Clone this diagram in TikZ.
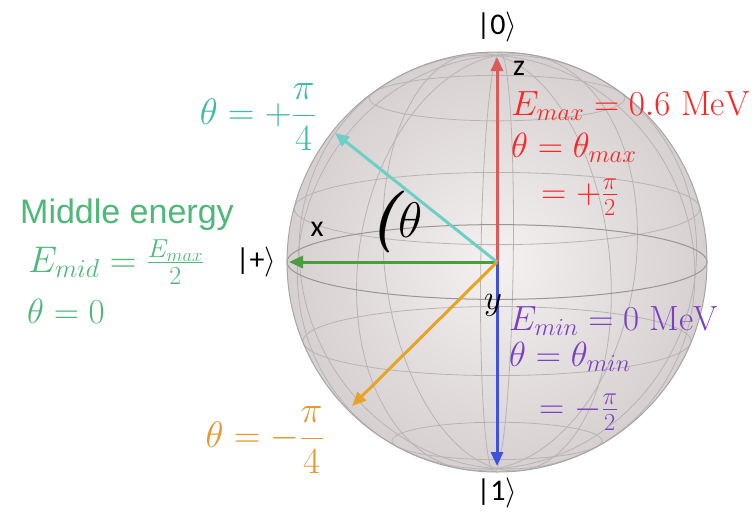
\RequirePackage{fix-cm}
\documentclass[tikz,border=0pt]{standalone}
\usepackage{amsmath}
\usepackage{fontspec}
\newfontfamily\ketfont{Carlito}
\newfontfamily\headfont{Liberation Sans}
\usetikzlibrary{arrows.meta}
\definecolor{cSphIn}{HTML}{F5F1F1}
\definecolor{cSphOut}{HTML}{D6D0D0}
\definecolor{cRim}{HTML}{A9A5A5}
\definecolor{cGrid}{HTML}{B9B4B4}
\definecolor{cEq}{HTML}{9A9696}
\definecolor{cZ}{HTML}{DE5A5A}
\definecolor{cMinA}{HTML}{3F52DD}
\definecolor{cMidA}{HTML}{4B9B3F}
\definecolor{cPlusA}{HTML}{6DD0C6}
\definecolor{cNegA}{HTML}{E8A326}
\definecolor{cMaxT}{HTML}{FF2424}
\definecolor{cMinT}{HTML}{7B3FC4}
\definecolor{cMidT}{HTML}{4DB878}
\definecolor{cPlusT}{HTML}{3DBAA8}
\definecolor{cNegT}{HTML}{E8962E}

\begin{document}
\begin{tikzpicture}[
    x=1pt, y=-1pt,
    grd/.style={draw=cGrid, line width=0.8pt},
    eqt/.style={draw=cEq, line width=1pt},
    ar/.style={-{Triangle[length=14pt,width=12pt]}, line width=3pt},
    ket/.style={font=\ketfont\fontsize{30}{32}\selectfont, inner sep=0pt},
    mth/.style={font=\fontsize{35}{40}\selectfont, inner sep=0pt},
    mbig/.style={font=\fontsize{37}{42}\selectfont, inner sep=0pt},
]
\fill[white] (0,0) rectangle (752,515);
\useasboundingbox (0,0) rectangle (752,515);

% === SPHERE: body, grid, equator ===
\coordinate (c) at (497,262);
\shade[inner color=cSphIn, outer color=cSphOut] (c) circle[radius=210pt];

\foreach \la in {52.5,15,-22.5,-60}
  \draw[grd] plot[domain=0:360, samples=91]
    ({497+210*cos(\la)*cos(\x)}, {262-206.6*sin(\la)+37.4*cos(\la)*sin(\x)});
\foreach \lo in {-18,19.5,57,94.5,132}
  \draw[grd] plot[domain=0:360, samples=91]
    ({497+210*cos(\x)*cos(\lo)}, {262-206.6*sin(\x)+37.4*cos(\x)*sin(\lo)});

\draw[eqt] plot[domain=0:360, samples=121] ({497+210*cos(\x)}, {262+37.4*sin(\x)});
\draw[draw=cRim, line width=1pt] (c) circle[radius=210pt];

% === STATE ARROWS ===
\coordinate (tz) at (497,57);
\coordinate (tb) at (497,466);
\coordinate (tm) at (289,262);
\coordinate (tp) at (335,133);
\coordinate (tn) at (352,406);

\draw[ar, cZ] (c) -- (tz);
\draw[ar, cMinA] (c) -- (tb);
\draw[ar, cMidA] (c) -- (tm);
\draw[ar, cPlusA] (c) -- (tp);
\draw[ar, cNegA] (c) -- (tn);

% === AXIS AND STATE LABELS ===
\node[ket] (k0) at (497,27) {|0$\rangle$};
\node[ket] (k1) at (497,493) {|1$\rangle$};
\node[ket] (kp) at (256,262) {|+$\rangle$};
\node[ket] (lx) at (317,229) {x};
\node[ket] (lz) at (519,68) {z};
\node[mth] (ly) at (493,305) {$y$};
\node[inner sep=0pt, font=\fontsize{50}{50}\selectfont] (ang) at (396,222)
    {{\fontsize{62}{62}\selectfont\bfseries\itshape(}$\theta$};

% === ENERGY LABELS ===
\node[mth, text=cMaxT, anchor=base west] (emax) at (511,115)
    {$E_{max} = 0.6\ \mathrm{MeV}$};
\node[mth, text=cMaxT, anchor=base west] (thmax) at (511,157)
    {$\theta = \theta_{max}$};
\node[mth, text=cMaxT, anchor=base west] (vmax) at (541,203)
    {$= +\frac{\pi}{2}$};

\node[mth, text=cMinT, anchor=base west] (emin) at (509,330)
    {$E_{min} = 0\ \mathrm{MeV}$};
\node[mth, text=cMinT, anchor=base west] (thmin) at (509,366)
    {$\theta = \theta_{min}$};
\node[mth, text=cMinT, anchor=base west] (vmin) at (539,418)
    {$= -\frac{\pi}{2}$};

\node[text=cMidT, anchor=base west, inner sep=0pt,
      font=\headfont\fontsize{34}{38}\selectfont] (mid) at (20,223) {Middle energy};
\node[mbig, text=cMidT, anchor=base west] (emid) at (28,272)
    {$E_{mid} = \frac{E_{max}}{2}$};
\node[mth, text=cMidT, anchor=base west] (thmid) at (27,323) {$\theta = 0$};

\node[mbig, text=cPlusT, anchor=east] (thp) at (316,117) {$\theta = +\dfrac{\pi}{4}$};
\node[mbig, text=cNegT, anchor=east] (thn) at (324,440) {$\theta = -\dfrac{\pi}{4}$};

\end{tikzpicture}
\end{document}
